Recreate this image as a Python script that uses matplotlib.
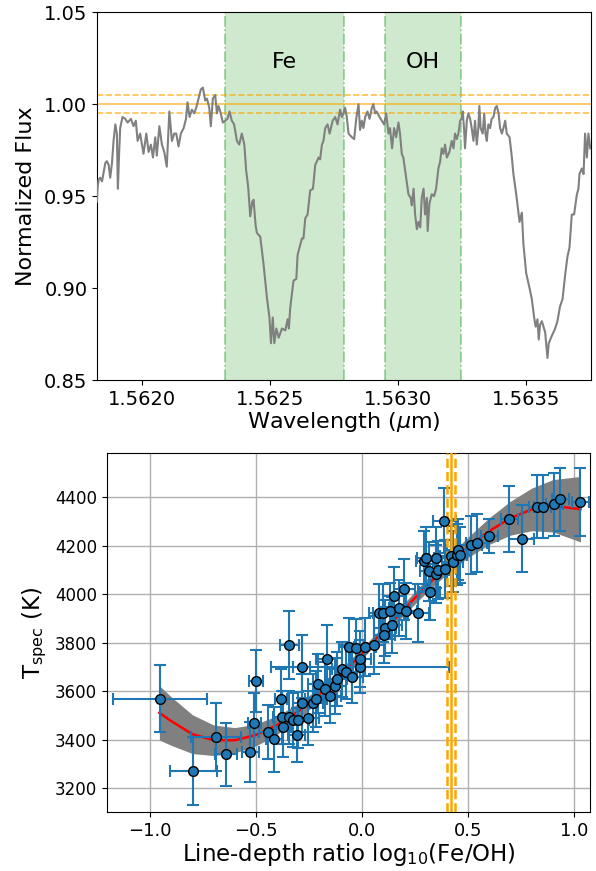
"""Fe/OH line-depth ratio figure: spectrum window (top) + T_spec calibration (bottom).

Values below were read off the reference figure by eye.
"""
import matplotlib

matplotlib.use("Agg")  # headless
import matplotlib.pyplot as plt
import numpy as np

# --- top panel: spectrum (wavelength in micron, normalized flux) ---
wavelength = [
    1.561823, 1.561826, 1.561830, 1.561836, 1.561843, 1.561856, 1.561862, 1.561869,
    1.561875, 1.561882, 1.561888, 1.561895, 1.561901, 1.561905, 1.561910, 1.561914,
    1.561923, 1.561934, 1.561943, 1.561956, 1.561966, 1.561975, 1.561982, 1.561992,
    1.562005, 1.562016, 1.562025, 1.562034, 1.562042, 1.562051, 1.562057, 1.562067,
    1.562077, 1.562086, 1.562096, 1.562106, 1.562116, 1.562125, 1.562133, 1.562142,
    1.562151, 1.562162, 1.562171, 1.562177, 1.562185, 1.562194, 1.562203, 1.562211,
    1.562220, 1.562229, 1.562237, 1.562246, 1.562253, 1.562262, 1.562268, 1.562276,
    1.562285, 1.562292, 1.562298, 1.562305, 1.562315, 1.562324, 1.562333, 1.562341,
    1.562350, 1.562359, 1.562370, 1.562379, 1.562389, 1.562399, 1.562406, 1.562414,
    1.562422, 1.562430, 1.562435, 1.562443, 1.562448, 1.562461, 1.562474, 1.562487,
    1.562497, 1.562503, 1.562510, 1.562516, 1.562524, 1.562533, 1.562546, 1.562559,
    1.562568, 1.562573, 1.562578, 1.562591, 1.562602, 1.562607, 1.562624, 1.562630,
    1.562637, 1.562646, 1.562656, 1.562667, 1.562676, 1.562689, 1.562695, 1.562702,
    1.562708, 1.562715, 1.562724, 1.562732, 1.562744, 1.562754, 1.562763, 1.562773,
    1.562780, 1.562786, 1.562793, 1.562799, 1.562806, 1.562819, 1.562828, 1.562836,
    1.562845, 1.562851, 1.562858, 1.562864, 1.562871, 1.562880, 1.562888, 1.562897,
    1.562903, 1.562910, 1.562916, 1.562927, 1.562936, 1.562945, 1.562953, 1.562962,
    1.562968, 1.562976, 1.562984, 1.562992, 1.563001, 1.563007, 1.563014, 1.563020,
    1.563031, 1.563040, 1.563049, 1.563053, 1.563060, 1.563066, 1.563073, 1.563079,
    1.563086, 1.563092, 1.563099, 1.563105, 1.563112, 1.563115, 1.563122, 1.563131,
    1.563140, 1.563148, 1.563157, 1.563164, 1.563170, 1.563177, 1.563183, 1.563190,
    1.563200, 1.563209, 1.563216, 1.563222, 1.563229, 1.563235, 1.563242, 1.563248,
    1.563252, 1.563257, 1.563261, 1.563268, 1.563274, 1.563281, 1.563287, 1.563294,
    1.563300, 1.563307, 1.563313, 1.563317, 1.563322, 1.563330, 1.563336, 1.563341,
    1.563346, 1.563352, 1.563359, 1.563365, 1.563372, 1.563379, 1.563385, 1.563392,
    1.563398, 1.563405, 1.563411, 1.563418, 1.563424, 1.563435, 1.563444, 1.563450,
    1.563461, 1.563474, 1.563483, 1.563489, 1.563500, 1.563505, 1.563513, 1.563522,
    1.563531, 1.563537, 1.563544, 1.563549, 1.563554, 1.563561, 1.563574, 1.563583,
    1.563588, 1.563600, 1.563613, 1.563622, 1.563632, 1.563642, 1.563652, 1.563661,
    1.563669, 1.563678, 1.563687, 1.563698, 1.563704, 1.563708, 1.563717, 1.563724,
    1.563730, 1.563737, 1.563743, 1.563750,
]
flux = [
    0.947, 0.955, 0.959, 0.960, 0.958, 0.968, 0.969, 0.967,
    0.960, 0.968, 0.980, 0.989, 0.984, 0.954, 0.974, 0.987,
    0.993, 0.992, 0.990, 0.992, 0.988, 0.991, 0.980, 0.984,
    0.973, 0.984, 0.974, 0.978, 0.971, 0.982, 0.972, 0.988,
    0.978, 0.974, 0.966, 0.996, 0.980, 0.984, 0.984, 0.977,
    0.984, 0.987, 0.992, 1.001, 0.993, 0.997, 0.995, 0.998,
    1.003, 1.008, 1.009, 1.002, 1.003, 0.998, 0.988, 1.003,
    1.005, 0.995, 0.999, 0.996, 0.990, 0.991, 0.992, 0.996,
    0.991, 0.989, 0.980, 0.978, 0.984, 0.978, 0.964, 0.955,
    0.939, 0.947, 0.948, 0.934, 0.930, 0.928, 0.913, 0.895,
    0.884, 0.870, 0.884, 0.870, 0.878, 0.873, 0.878, 0.877,
    0.883, 0.878, 0.889, 0.904, 0.905, 0.918, 0.927, 0.927,
    0.938, 0.940, 0.953, 0.954, 0.967, 0.971, 0.970, 0.978,
    0.980, 0.987, 0.989, 0.984, 0.991, 0.993, 0.989, 0.997,
    0.993, 0.995, 0.998, 0.993, 0.984, 0.982, 0.981, 0.992,
    1.000, 0.986, 0.991, 0.987, 0.993, 0.996, 0.992, 0.998,
    1.000, 0.995, 0.996, 0.993, 0.991, 0.989, 0.995, 0.984,
    0.987, 0.976, 0.987, 0.982, 0.990, 0.984, 0.973, 0.971,
    0.960, 0.951, 0.949, 0.945, 0.954, 0.940, 0.932, 0.936,
    0.933, 0.949, 0.954, 0.940, 0.949, 0.931, 0.946, 0.951,
    0.950, 0.954, 0.965, 0.969, 0.976, 0.973, 0.978, 0.971,
    0.974, 0.980, 0.976, 0.984, 0.981, 0.984, 0.991, 0.992,
    0.996, 0.987, 0.976, 0.991, 0.995, 0.992, 0.987, 0.980,
    0.991, 0.978, 0.987, 0.999, 0.987, 0.984, 0.995, 0.984,
    0.980, 0.989, 0.987, 0.992, 0.993, 0.998, 0.999, 0.995,
    0.987, 0.984, 0.987, 0.991, 0.984, 0.982, 0.971, 0.962,
    0.951, 0.936, 0.941, 0.924, 0.908, 0.905, 0.900, 0.894,
    0.884, 0.879, 0.883, 0.872, 0.880, 0.882, 0.876, 0.862,
    0.870, 0.874, 0.878, 0.882, 0.890, 0.894, 0.907, 0.917,
    0.922, 0.940, 0.940, 0.951, 0.954, 0.962, 0.965, 0.962,
    0.984, 0.971, 0.984, 0.976,
]
line_windows = {"Fe": (1.562324, 1.562789), "OH": (1.562949, 1.563246)}
continuum = 1.0
continuum_err = 0.005

# --- bottom panel: calibration points ---
ldr = [
    -0.953, -0.796, -0.689, -0.642, -0.528, -0.509, -0.500, -0.445, -0.415, -0.383,
    -0.379, -0.373, -0.343, -0.343, -0.324, -0.308, -0.300, -0.285, -0.285, -0.253,
    -0.233, -0.217, -0.206, -0.175, -0.167, -0.151, -0.127, -0.120, -0.093, -0.075,
    -0.060, -0.046, -0.028, -0.009, -0.009, 0.014, 0.057, 0.082, 0.101, 0.132,
    0.151, 0.108, 0.140, 0.104, 0.175, 0.208, 0.200, 0.266, 0.318, 0.294,
    0.300, 0.349, 0.314, 0.349, 0.360, 0.392, 0.388, 0.418, 0.427, 0.446,
    0.451, 0.462, 0.514, 0.541, 0.600, 0.693, 0.753, 0.827, 0.851, 0.906,
    0.934, 1.028,
]
t_spec = [
    3569, 3269, 3411, 3339, 3349, 3470, 3641, 3431, 3401, 3569,
    3491, 3450, 3491, 3790, 3480, 3418, 3480, 3700, 3551, 3489,
    3551, 3567, 3631, 3608, 3731, 3579, 3622, 3650, 3689, 3679,
    3780, 3659, 3776, 3700, 3731, 3780, 3790, 3921, 3921, 3931,
    3992, 3859, 3872, 3830, 3941, 3931, 4020, 3921, 4010, 4137,
    4150, 4150, 4093, 4082, 4100, 4102, 4303, 4157, 4134, 4162,
    4183, 4162, 4203, 4212, 4239, 4309, 4229, 4360, 4360, 4371,
    4390, 4381,
]
ldr_err = [
    0.22, 0.11, 0.12, 0.05, 0.04, 0.03, 0.035, 0.04, 0.04, 0.03,
    0.04, 0.04, 0.04, 0.045, 0.04, 0.04, 0.05, 0.04, 0.04, 0.05,
    0.05, 0.05, 0.05, 0.05, 0.05, 0.05, 0.05, 0.05, 0.05, 0.05,
    0.05, 0.05, 0.05, 0.42, 0.05, 0.05, 0.05, 0.05, 0.05, 0.05,
    0.05, 0.05, 0.05, 0.05, 0.05, 0.05, 0.05, 0.05, 0.05, 0.04,
    0.04, 0.05, 0.04, 0.05, 0.05, 0.05, 0.055, 0.05, 0.05, 0.05,
    0.05, 0.05, 0.05, 0.05, 0.04, 0.04, 0.06, 0.04, 0.04, 0.04,
    0.04, 0.04,
]
t_err = [
    140, 140, 140, 130, 125, 120, 128, 110, 135, 120,
    110, 120, 110, 140, 110, 110, 115, 130, 120, 110,
    120, 115, 120, 110, 140, 110, 115, 110, 115, 110,
    120, 110, 120, 110, 115, 120, 120, 120, 120, 115,
    120, 115, 115, 115, 115, 115, 125, 120, 115, 125,
    125, 125, 120, 120, 120, 120, 135, 125, 125, 125,
    125, 115, 120, 120, 70, 135, 140, 130, 130, 130,
    130, 140,
]

# polynomial calibration curve + 1-sigma band, sampled off the figure
fit_x = [-0.956, -0.9, -0.8, -0.7, -0.6, -0.5, -0.4, -0.3, -0.2, -0.1, 0.0,
         0.1, 0.2, 0.3, 0.4, 0.5, 0.6, 0.7, 0.8, 0.9, 1.03]
fit_t = [3510, 3476, 3422, 3397, 3397, 3419, 3460, 3517, 3588, 3668, 3755,
         3847, 3940, 4030, 4116, 4193, 4260, 4313, 4349, 4364, 4350]
fit_sig = [112, 100, 80, 63, 52, 45, 38, 32, 27, 24, 22,
           22, 24, 27, 33, 42, 55, 70, 88, 108, 135]

target_ldr = 0.42
target_ldr_err = 0.02


fig = plt.figure(figsize=(5.96, 8.71), dpi=100)

# ---------------- top: spectrum ----------------
ax1 = fig.add_axes([0.163, 0.5637, 0.829, 0.4223])
ax1.plot(wavelength, flux, color="gray", lw=1.5, zorder=3)
for name, (lo, hi) in line_windows.items():
    ax1.axvspan(lo, hi, color="C2", alpha=0.23, lw=0, zorder=1)
    ax1.axvline(lo, color="C2", ls="-.", alpha=0.5, lw=1.2, zorder=2)
    ax1.axvline(hi, color="C2", ls="-.", alpha=0.5, lw=1.2, zorder=2)
    ax1.text(0.5 * (lo + hi), 1.023, name, ha="center", va="center", fontsize=16)
ax1.axhline(continuum, color="orange", lw=1.2, alpha=0.7, zorder=2)
ax1.axhline(continuum + continuum_err, color="orange", ls="--", lw=1.2, alpha=0.7, zorder=2)
ax1.axhline(continuum - continuum_err, color="orange", ls="--", lw=1.2, alpha=0.7, zorder=2)
ax1.set_xlim(1.561824, 1.563754)
ax1.set_ylim(0.85, 1.05)
ax1.set_xticks([1.5620, 1.5625, 1.5630, 1.5635])
ax1.set_xticklabels(["1.5620", "1.5625", "1.5630", "1.5635"])
ax1.set_yticks([0.85, 0.90, 0.95, 1.00, 1.05])
ax1.set_yticklabels(["0.85", "0.90", "0.95", "1.00", "1.05"])
ax1.tick_params(labelsize=14)
ax1.set_xlabel(r"Wavelength ($\mu$m)", fontsize=16, labelpad=1)
ax1.set_ylabel("Normalized Flux", fontsize=16, labelpad=6)

# ---------------- bottom: calibration ----------------
ax2 = fig.add_axes([0.1795, 0.0677, 0.8105, 0.4123])
fx = np.array(fit_x)
ft = np.array(fit_t)
fs = np.array(fit_sig)
ax2.fill_between(fx, ft - fs, ft + fs, color="gray", lw=0, zorder=1)
ax2.plot(fx, ft, color="red", lw=1.8, zorder=2)
ax2.errorbar(ldr, t_spec, xerr=ldr_err, yerr=t_err, fmt="none", ecolor="C0",
             elinewidth=1.5, capsize=4, capthick=1.5, zorder=3)
for xv, ls_ in [(target_ldr - target_ldr_err, "--"), (target_ldr, "-"),
                (target_ldr + target_ldr_err, "--")]:
    ax2.axvline(xv, color="orange", ls=ls_, lw=1.8, zorder=4)
ax2.plot(ldr, t_spec, "o", ms=7, mfc="C0", mec="black", mew=1.0, zorder=5)
ax2.set_xlim(-1.203, 1.075)
ax2.set_ylim(3101, 4582)
ax2.set_xticks([-1.0, -0.5, 0.0, 0.5, 1.0])
ax2.set_yticks([3200, 3400, 3600, 3800, 4000, 4200, 4400])
ax2.grid(True, color="#b0b0b0", lw=1.0, zorder=0)
ax2.set_axisbelow(True)
ax2.tick_params(axis="x", labelsize=13)
ax2.tick_params(axis="y", labelsize=12)
ax2.set_xlabel(r"Line-depth ratio log$_{10}$(Fe/OH)", fontsize=16.5, labelpad=1)
ax2.set_ylabel(r"T$_{\rm spec}$ (K)", fontsize=16.5)

fig.savefig("out.png", dpi=100)
